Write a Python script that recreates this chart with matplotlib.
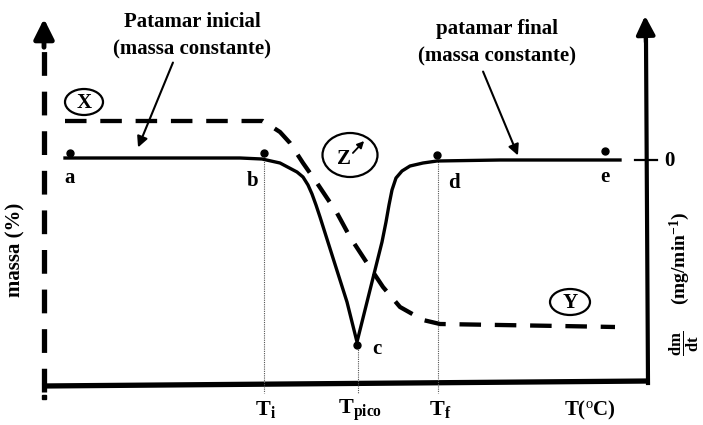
import matplotlib
matplotlib.use("Agg")
import matplotlib.pyplot as plt
from matplotlib.patches import Ellipse

# schematic coordinates (picture units, y grows downward)
dtg_x = [65, 120, 180, 240, 262, 280, 297, 303, 308, 312, 316, 320, 333,
         347, 357, 362, 367, 372, 377, 382, 386, 389, 392, 396, 402, 410,
         423, 437, 500, 560, 620]
dtg_y = [158, 158, 158, 158, 159, 163, 172, 177, 185, 194, 205, 217, 258,
         302, 342, 322, 302, 282, 262, 242, 222, 205, 190, 178, 171, 166,
         163, 161, 160, 160, 160]
tg_x = [65, 150, 240, 263, 280, 290, 303, 317, 337, 350, 367, 383, 400,
        423, 440, 500, 560, 615]
tg_y = [121, 121, 121, 121, 132, 143, 163, 183, 213, 237, 263, 287, 307,
        320, 324, 325, 326, 327]

pt_labels = ["a", "b", "c", "d", "e"]
pt_x = [70, 264, 357, 437, 605]
pt_y = [153, 153, 345, 155, 151]
lab_x = [70, 253, 377, 454, 605]
lab_y = [178, 181, 349, 183, 177]

t_ticks = [264, 358, 438]
t_labels = [r"$\mathbf{T_i}$", r"$\mathbf{T_{pico}}$", r"$\mathbf{T_f}$"]

fig = plt.figure(figsize=(7.03, 4.25), dpi=100)
ax = fig.add_axes([0, 0, 1, 1])
ax.set_xlim(0, 703)
ax.set_ylim(425, 0)
ax.axis("off")

serif = {"family": "Liberation Serif", "weight": "bold"}
plt.rcParams["mathtext.fontset"] = "custom"
plt.rcParams["mathtext.rm"] = "Liberation Serif"
plt.rcParams["mathtext.bf"] = "Liberation Serif:bold"
plt.rcParams["mathtext.it"] = "Liberation Serif:bold"

# left (dashed) axis
ax.plot([44, 44], [392, 48], color="black", lw=3.8, dashes=(4.5, 3))
ax.plot([44], [397], "s", color="black", ms=3)
ax.annotate("", xy=(44, 16), xytext=(44, 50),
            arrowprops=dict(arrowstyle="-|>", color="black", lw=3.5,
                            mutation_scale=30))
# bottom axis
ax.plot([42, 650], [386, 381], color="black", lw=3.8, solid_capstyle="butt")
# right axis
ax.plot([648, 646], [383, 40], color="black", lw=3.0)
ax.annotate("", xy=(645, 13), xytext=(646, 45),
            arrowprops=dict(arrowstyle="-|>", color="black", lw=3,
                            mutation_scale=28))
ax.plot([635, 657], [160, 160], color="black", lw=1.6)
ax.text(669, 161, "0", ha="center", va="center", fontsize=15, **serif)

# vertical guide lines
for x, y0 in zip(t_ticks, [157, 345, 157]):
    ax.plot([x, x], [y0, 393], color="#555555", lw=0.8, ls=(0, (1, 1)))

# curves
ax.plot(tg_x, tg_y, color="black", lw=3.1, dashes=(5, 3.2))
ax.plot(dtg_x, dtg_y, color="black", lw=2.4, solid_joinstyle="round")
ax.plot(pt_x, pt_y, "o", color="black", ms=5)
for s, x, y in zip(pt_labels, lab_x, lab_y):
    ax.text(x, y, s, ha="center", va="center", fontsize=15, **serif)

# x labels
for x, s in zip(t_ticks, t_labels):
    ax.text(x + 2, 410, s, ha="center", va="center", fontsize=16)
ax.text(590, 410, r"T($^{\rm o}$C)", ha="center", va="center",
        fontsize=15, **serif)

# y labels
ax.text(15, 250, "massa (%)", rotation=90, ha="center", va="center",
        fontsize=15, **serif)
ax.text(680, 258, r"(mg/min$^{\mathbf{-1}}$)", rotation=90, ha="center",
        va="center", fontsize=14, **serif)
ax.text(684, 343, r"$\dfrac{\mathbf{dm}}{\mathbf{dt}}$", rotation=90,
        ha="center", va="center", fontsize=12)

# annotations
ax.text(192, 22, "Patamar inicial", ha="center", va="center", fontsize=15, **serif)
ax.text(192, 49, "(massa constante)", ha="center", va="center", fontsize=15, **serif)
ax.annotate("", xy=(137, 150), xytext=(174, 60),
            arrowprops=dict(arrowstyle="-|>", color="black", lw=1.5,
                            mutation_scale=16))
ax.text(497, 29, "patamar final", ha="center", va="center", fontsize=15, **serif)
ax.text(497, 56, "(massa constante)", ha="center", va="center", fontsize=15, **serif)
ax.annotate("", xy=(519, 158), xytext=(482, 69),
            arrowprops=dict(arrowstyle="-|>", color="black", lw=1.5,
                            mutation_scale=16))

# circled markers
for s, cx, cy, w, h in [("X", 84, 102, 38, 26), ("Y", 570, 302, 40, 26),
                        ("Z", 350, 155, 55, 44)]:
    ax.add_patch(Ellipse((cx, cy), w, h, fill=False, ec="black", lw=1.6))
    ax.text(cx - (6 if s == "Z" else 0), cy + (4 if s == "Z" else 1), s,
            ha="center", va="center", fontsize=15, **serif)
ax.annotate("", xy=(366, 139), xytext=(351, 155),
            arrowprops=dict(arrowstyle="-|>", color="black", lw=1.3,
                            mutation_scale=10))

fig.savefig("out.png", dpi=100)
